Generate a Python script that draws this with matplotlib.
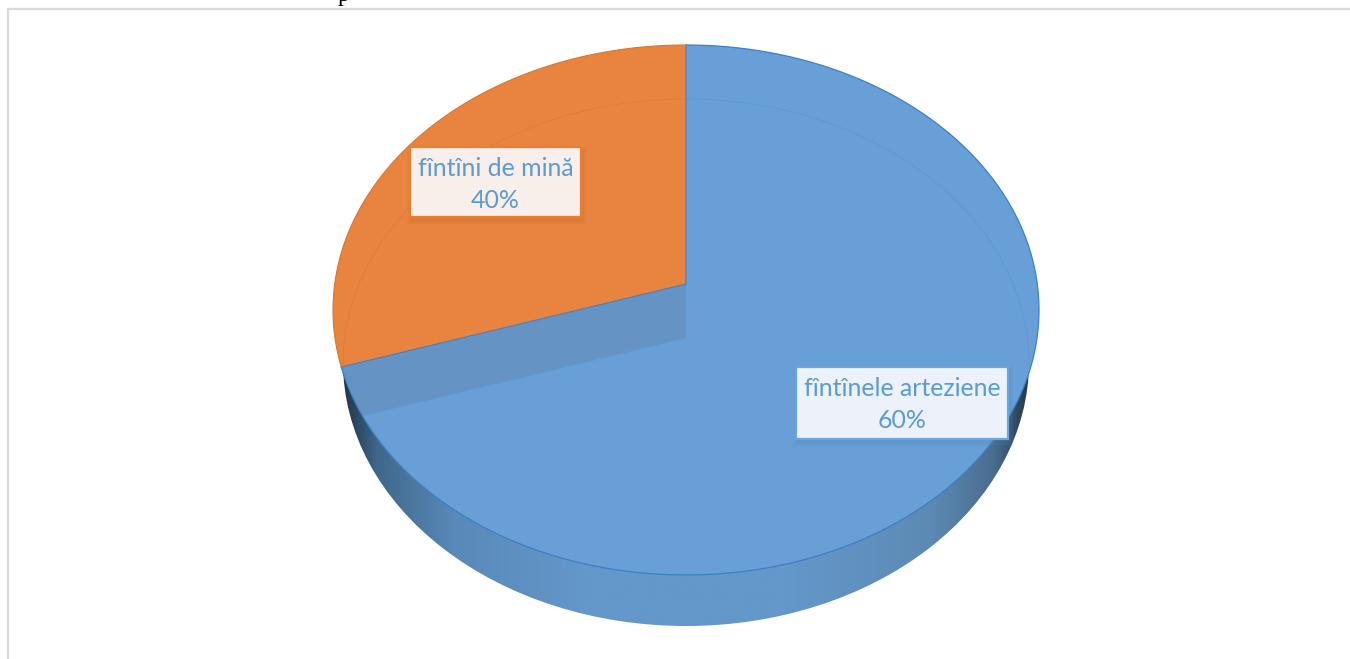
import matplotlib
matplotlib.use('Agg')
import matplotlib.pyplot as plt
from matplotlib.colors import LinearSegmentedColormap
from matplotlib.patches import Ellipse, Polygon, Rectangle
import numpy as np

plt.rcParams['font.family'] = ['Lato', 'DejaVu Sans']

# label text says 60/40, the slices as drawn are closer to 72/28
categories = ['fîntînele arteziene', 'fîntîni de mină']
percent_labels = [60, 40]
drawn_shares = [71.55, 28.45]

blue = '#689FD6'
orange = '#E98440'
text_blue = '#5B9BD5'

cx, cy, rx, ry = 686, 310, 353, 265   # top face
apex_y = 284
depth = 54


def rim(t):
    return cx + rx * np.sin(t), cy - ry * np.cos(t)


fig = plt.figure()
fig.set_size_inches(13.5, 6.59)
ax = fig.add_axes([0, 0, 1, 1])
ax.set_xlim(0, 1350)
ax.set_ylim(659, 0)
ax.axis('off')

# chart frame and the bit of page text cut off above it
ax.plot([8, 8, 1350], [659, 8.5, 8.5], color='#d9d9d9', lw=1.6)
ax.text(343, 1, 'p', family='Liberation Serif', fontsize=17, color='black', ha='center', va='baseline')

# side wall, lighter in the middle
wall_cmap = LinearSegmentedColormap.from_list('wall', [
    (0.0, '#22364c'), (0.05, '#41688c'), (0.16, '#5889b8'), (0.35, '#6497ca'),
    (0.65, '#6497ca'), (0.86, '#5c8ab4'), (0.95, '#4a6d8e'), (1.0, '#263a4e')])
bottom = Ellipse((cx, 362), 686, 528, facecolor='none', edgecolor='none')
ax.add_patch(bottom)
wall = ax.imshow(np.linspace(0, 1, 256).reshape(1, -1), cmap=wall_cmap, aspect='auto',
                 extent=(343, 1029, 659, 0), zorder=1)
wall.set_clip_path(bottom)
ax.set_xlim(0, 1350)
ax.set_ylim(659, 0)

# top face, slices start at 12 o'clock and run clockwise
split = 2 * np.pi * drawn_shares[0] / sum(drawn_shares)
t_blue = np.linspace(0, split, 300)
t_orange = np.linspace(split, 2 * np.pi, 150)
bx, by = rim(t_blue)
ox, oy = rim(t_orange)
ax.add_patch(Polygon(np.column_stack([np.r_[cx, bx], np.r_[apex_y, by]]), closed=True,
                     facecolor=blue, edgecolor='none', zorder=2))
ax.add_patch(Polygon(np.column_stack([np.r_[cx, ox], np.r_[apex_y, oy]]), closed=True,
                     facecolor=orange, edgecolor='none', zorder=2))

# back wall of the blue slice showing through
sx, sy = rim(split)
band = Polygon([(cx, apex_y), (cx, apex_y + depth), (sx, sy + depth), (sx, sy)], closed=True,
               facecolor='#6593C3', edgecolor='none', zorder=3)
ax.add_patch(band)
top_clip = Ellipse((cx, cy), 2 * rx, 2 * ry, facecolor='none', edgecolor='none', zorder=3)
ax.add_patch(top_clip)
band.set_clip_path(top_clip)
lower, = ax.plot([cx, sx], [apex_y + depth, sy + depth], color='#5E9BD8', lw=0.8, zorder=3)
lower.set_clip_path(top_clip)

# outlines
ax.plot(bx, by, color='#3C80C6', lw=0.9, zorder=4)
ax.plot(ox, oy, color='#D8762F', lw=0.8, zorder=4)
ax.plot([sx, cx, cx], [sy, apex_y, 45], color='#4C80B8', lw=0.8, zorder=4)

# far rim seen through the top
t_far = np.linspace(-np.pi / 2, np.pi / 2, 200)
far_x = cx + 343 * np.sin(t_far)
far_y = 364 - 265 * np.cos(t_far)
ax.plot(far_x[far_x < cx], far_y[far_x < cx], color='#DF7C38', lw=0.6, zorder=4)
ax.plot(far_x[far_x >= cx], far_y[far_x >= cx], color='#5F98D2', lw=0.6, zorder=4)

# data labels
boxes = [(796, 367, 212, 72, '#EDF2FA', '#6AA5DE', '#4F86BC'),
         (410, 147, 171, 70, '#F9EFEA', '#EE7D31', '#B9652A')]
for name, pct, (x0, y0, w, h, fc, ec, shadow) in zip(categories, percent_labels, boxes):
    for grow in (9, 7, 5, 3, 1):
        ax.add_patch(Rectangle((x0 + 1 - grow / 2, y0 + 3 - grow / 2), w + grow, h + grow,
                               facecolor=shadow, edgecolor='none', alpha=0.06, zorder=5))
    ax.add_patch(Rectangle((x0, y0), w, h, facecolor=fc, edgecolor=ec, lw=1.6, zorder=6))
    ax.text(x0 + w / 2, y0 + 22, name, color=text_blue, fontsize=17.9, ha='center', va='center', zorder=7)
    ax.text(x0 + w / 2, y0 + 54, '%d%%' % pct, color=text_blue, fontsize=17.9, ha='center', va='center', zorder=7)

fig.savefig('out.png', dpi=100)
